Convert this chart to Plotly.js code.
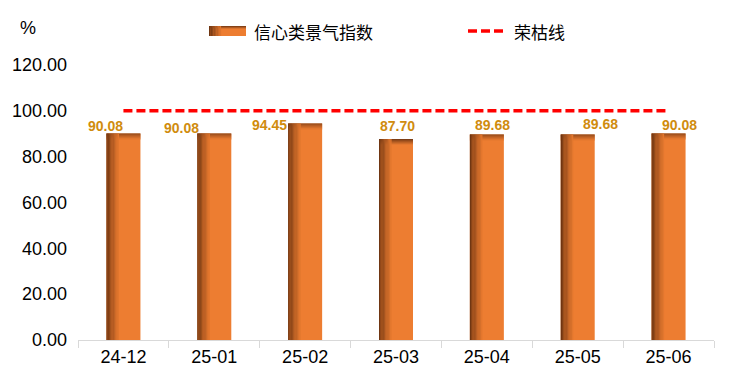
<!DOCTYPE html>
<html>
<head>
<meta charset="utf-8">
<script src="https://cdn.plot.ly/plotly-3.0.1.min.js"></script>
<style>html,body{margin:0;padding:0;background:#fff;}#chart{width:730px;height:381px;}</style>
</head>
<body>
<div id="chart"></div>
<script>
// ---- data ----
const categories = ['24-12','25-01','25-02','25-03','25-04','25-05','25-06'];
const indexValues = [90.08, 90.08, 94.45, 87.70, 89.68, 89.68, 90.08];
const thresholdValues = [100, 100, 100, 100, 100, 100, 100];
const yTickValues = [0, 20, 40, 60, 80, 100, 120];
const seriesNames = ['信心类景气指数', '荣枯线'];

// ---- style ----
const ORANGE = [237,125,49];
const DARK = [112,54,18];
const labelShiftX = [-18, -33, -36, 1, 6, 23, 11];
const labelShiftY = [8, 5.5, -1, 13, 9, 10.5, 9];
const W = 730, H = 381;
const M = {l: 78, r: 16, t: 65, b: 41};
const plotW = W - M.l - M.r, plotH = H - M.t - M.b;
const pxX = categories.length / plotW;   // category units per px
const pxY = 120 / plotH;                 // y units per px
const barW = 34 * pxX;

function mix(a, b, t) {
  return 'rgb(' + a.map((v, i) => Math.round(v + (b[i] - v) * t)).join(',') + ')';
}

const traces = [];
// main bars
traces.push({
  type: 'bar', x: categories, y: indexValues, width: barW, offset: -barW / 2,
  marker: {color: mix(ORANGE, ORANGE, 0), line: {width: 0}},
  name: seriesNames[0], showlegend: false, hoverinfo: 'skip'
});
// top shading
const topN = 6;
for (let i = 0; i < topN; i++) {
  traces.push({
    type: 'bar', x: categories,
    y: indexValues.map(() => pxY),
    base: indexValues.map(v => v - (i + 1) * pxY),
    width: barW, offset: -barW / 2,
    marker: {color: mix(DARK, ORANGE, Math.pow((i + 0.5) / topN, 0.9)), line: {width: 0}},
    showlegend: false, hoverinfo: 'skip'
  });
}
// left shading
const leftN = 10, stripPx = 1.25;
for (let i = 0; i < leftN; i++) {
  traces.push({
    type: 'bar', x: categories, y: indexValues,
    width: stripPx * pxX * 1.05, offset: -barW / 2 + i * stripPx * pxX,
    marker: {color: mix(DARK, ORANGE, Math.pow(i / leftN, 0.9)), line: {width: 0}},
    showlegend: false, hoverinfo: 'skip'
  });
}
// threshold line
traces.push({
  type: 'scatter', mode: 'lines', x: categories, y: thresholdValues,
  line: {color: '#FF0000', width: 3.5, dash: '9px,4px'},
  name: seriesNames[1], showlegend: false, hoverinfo: 'skip'
});

const annotations = indexValues.map((v, i) => ({
  x: categories[i], y: v, xref: 'x', yref: 'y',
  text: v.toFixed(2), showarrow: false,
  xshift: labelShiftX[i], yshift: labelShiftY[i], yanchor: 'middle',
  font: {family: 'Liberation Sans, Arial, sans-serif', size: 14, color: '#D08C0E', weight: 'bold'}
}));
// unit label
const px2paperX = p => (p - M.l) / plotW;
const px2paperY = p => (H - M.b - p) / plotH;
annotations.push({
  x: px2paperX(28), y: px2paperY(28), xref: 'paper', yref: 'paper',
  text: '%', showarrow: false, xanchor: 'center', yanchor: 'middle',
  font: {family: 'Liberation Sans, Arial, sans-serif', size: 18, color: '#000'}
});
// legend texts
annotations.push({
  x: px2paperX(252), y: px2paperY(31), xref: 'paper', yref: 'paper',
  text: seriesNames[0], showarrow: false, xanchor: 'left', yanchor: 'middle',
  font: {family: 'Noto Sans CJK SC, sans-serif', size: 17, color: '#000'}
});
annotations.push({
  x: px2paperX(512), y: px2paperY(31), xref: 'paper', yref: 'paper',
  text: seriesNames[1], showarrow: false, xanchor: 'left', yanchor: 'middle',
  font: {family: 'Noto Sans CJK SC, sans-serif', size: 17, color: '#000'}
});

// legend swatches
const shapes = [];
const sw = {x0: 209, x1: 246, y0: 26, y1: 36};
shapes.push({type: 'rect', xref: 'paper', yref: 'paper',
  x0: px2paperX(sw.x0), x1: px2paperX(sw.x1), y0: px2paperY(sw.y1), y1: px2paperY(sw.y0),
  fillcolor: mix(ORANGE, ORANGE, 0), line: {width: 0}});
for (let i = 0; i < 3; i++) {
  shapes.push({type: 'rect', xref: 'paper', yref: 'paper',
    x0: px2paperX(sw.x0), x1: px2paperX(sw.x1), y0: px2paperY(sw.y0 + i + 1), y1: px2paperY(sw.y0 + i),
    fillcolor: mix(DARK, ORANGE, (i + 0.5) / 3), line: {width: 0}});
}
for (let i = 0; i < 8; i++) {
  shapes.push({type: 'rect', xref: 'paper', yref: 'paper',
    x0: px2paperX(sw.x0 + i * 1.5), x1: px2paperX(sw.x0 + (i + 1) * 1.5 + 0.1), y0: px2paperY(sw.y1), y1: px2paperY(sw.y0),
    fillcolor: mix(DARK, ORANGE, i / 8), line: {width: 0}});
}
shapes.push({type: 'line', xref: 'paper', yref: 'paper',
  x0: px2paperX(468), x1: px2paperX(504), y0: px2paperY(31), y1: px2paperY(31),
  line: {color: '#FF0000', width: 3.5, dash: '9px,4px'}});

const layout = {
  width: W, height: H,
  margin: M,
  paper_bgcolor: '#fff', plot_bgcolor: '#fff',
  barmode: 'overlay',
  showlegend: false,
  font: {family: 'Liberation Sans, Arial, sans-serif', size: 18, color: '#000'},
  xaxis: {
    type: 'category', range: [-0.5, categories.length - 0.5],
    showline: true, linecolor: '#D9D9D9', linewidth: 1,
    ticks: 'outside', tickson: 'boundaries', ticklen: 7, tickcolor: '#D9D9D9', tickwidth: 1,
    showgrid: false, zeroline: false,
    tickfont: {size: 18, color: '#000'}, fixedrange: true
  },
  yaxis: {
    range: [0, 120], tickvals: yTickValues, tickformat: '.2f',
    showgrid: false, zeroline: false, showline: false, ticks: '',
    ticklabelstandoff: 10,
    tickfont: {size: 18, color: '#000'}, fixedrange: true
  },
  annotations: annotations,
  shapes: shapes
};

Plotly.newPlot('chart', traces, layout, {staticPlot: true, displayModeBar: false});
</script>
</body>
</html>
